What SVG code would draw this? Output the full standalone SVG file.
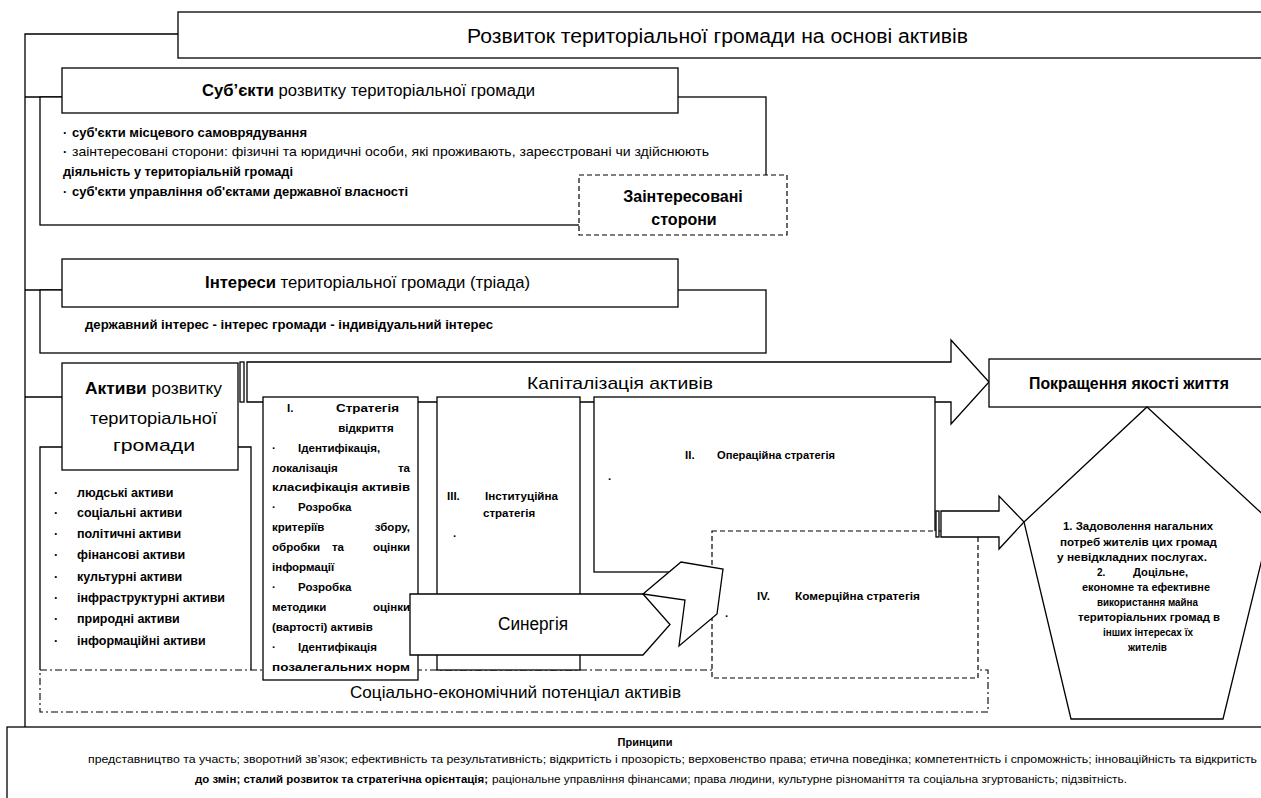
<svg xmlns="http://www.w3.org/2000/svg" width="1261" height="798" viewBox="0 0 1261 798">
<style>
text{font-family:"Liberation Sans",Arial,sans-serif;fill:#000}
.b{font-weight:bold}
.box{fill:#fff;stroke:#000;stroke-width:1.3}
.ln{fill:none;stroke:#000;stroke-width:1.3}
.dash{fill:#fff;stroke:#000;stroke-width:1.2;stroke-dasharray:5 3}
.dd{fill:none;stroke:#000;stroke-width:1.1;stroke-dasharray:7 3 2 3}
.s{font-size:11.5px;font-weight:bold}
.p{font-size:10px;font-weight:bold}
.l{font-size:12.5px;font-weight:bold}
</style>
<rect width="1261" height="798" fill="#fff"/>
<g id="connectors">
<path class="ln" d="M178,34 H25 V727"/>
<path class="ln" d="M25,97 H62"/>
<path class="ln" d="M25,290 H62"/>
<path class="ln" d="M25,397 H62"/>
</g>
<g id="title">
<rect class="box" x="178" y="12" width="1095" height="46"/>
<text x="467" y="43" font-size="20" textLength="501" lengthAdjust="spacingAndGlyphs">Розвиток територіальної громади на основі активів</text>
</g>
<g id="subjects">
<rect class="box" x="40" y="97" width="726" height="128"/>
<rect class="box" x="62" y="68" width="616" height="45"/>
<text x="202" y="96" font-size="16" textLength="333" lengthAdjust="spacingAndGlyphs"><tspan class="b">Суб’єкти</tspan> розвитку територіальної громади</text>
<text x="63" y="137" class="l">·</text>
<text x="72" y="137" class="l" textLength="235" lengthAdjust="spacingAndGlyphs">суб'єкти місцевого самоврядування</text>
<text x="63" y="156" class="l">·</text>
<text x="72" y="156" font-size="13" textLength="637" lengthAdjust="spacingAndGlyphs">заінтересовані сторони: фізичні та юридичні особи, які проживають, зареєстровані чи здійснюють</text>
<text x="63" y="176" class="l" textLength="230" lengthAdjust="spacingAndGlyphs">діяльність у територіальній громаді</text>
<text x="63" y="196" class="l">·</text>
<text x="72" y="196" class="l" textLength="336" lengthAdjust="spacingAndGlyphs">суб'єкти управління об'єктами державної власності</text>
</g>
<g id="stakeholders">
<rect class="dash" x="579" y="175" width="208" height="60"/>
<text x="683" y="202" font-size="16" class="b" text-anchor="middle">Заінтересовані</text>
<text x="684" y="225" font-size="16" class="b" text-anchor="middle">сторони</text>
</g>
<g id="interests">
<rect class="box" x="40" y="290" width="726" height="63"/>
<rect class="box" x="62" y="259" width="616" height="48"/>
<text x="205" y="288" font-size="16" textLength="325" lengthAdjust="spacingAndGlyphs"><tspan class="b">Інтереси</tspan> територіальної громади (тріада)</text>
<text x="85" y="329" class="l" textLength="408" lengthAdjust="spacingAndGlyphs">державний інтерес  - інтерес  громади - індивідуальний інтерес</text>
</g>
<g id="potential">
<rect class="dd" x="40" y="670" width="948" height="42"/>
<text x="350" y="698" font-size="17" textLength="331" lengthAdjust="spacingAndGlyphs">Соціально-економічний потенціал активів</text>
</g>
<g id="assets-list">
<path class="ln" d="M62,447 H40 V670"/>
<path class="ln" d="M238,447 H251 V670"/>
<text x="54" y="497" class="l">·</text><text x="77" y="497" class="l">людські активи</text>
<text x="54" y="517" class="l">·</text><text x="77" y="517" class="l">соціальні активи</text>
<text x="54" y="538" class="l">·</text><text x="77" y="538" class="l">політичні активи</text>
<text x="54" y="559" class="l">·</text><text x="77" y="559" class="l">фінансові активи</text>
<text x="54" y="581" class="l">·</text><text x="77" y="581" class="l">культурні активи</text>
<text x="54" y="602" class="l">·</text><text x="77" y="602" class="l">інфраструктурні активи</text>
<text x="54" y="623" class="l">·</text><text x="77" y="623" class="l">природні активи</text>
<text x="54" y="645" class="l">·</text><text x="77" y="645" class="l">інформаційні активи</text>
</g>
<g id="capitalization">
<polygon class="box" points="247,362 951,362 951,340 989,382 951,424 951,402 247,402"/>
<rect class="box" x="240" y="362" width="4" height="40"/>
<text x="527" y="389" font-size="17" textLength="186" lengthAdjust="spacingAndGlyphs">Капіталізація активів</text>
</g>
<g id="assets">
<rect class="box" x="62" y="363" width="176" height="107"/>
<text x="85" y="394" font-size="17" textLength="137" lengthAdjust="spacingAndGlyphs"><tspan class="b">Активи</tspan> розвитку</text>
<text x="90" y="424" font-size="17" textLength="127" lengthAdjust="spacingAndGlyphs">територіальної</text>
<text x="113" y="451" font-size="17" textLength="82" lengthAdjust="spacingAndGlyphs">громади</text>
</g>
<g id="strategy-1">
<rect class="box" x="263" y="397" width="155" height="283"/>
<text x="287" y="412" class="s">I.</text><text x="336" y="412" class="s" textLength="63" lengthAdjust="spacingAndGlyphs">Стратегія</text>
<text x="366" y="432" class="s" text-anchor="middle">відкриття</text>
<text x="272" y="452" class="s">·</text><text x="298" y="452" class="s">Ідентифікація,</text>
<text x="272" y="472" class="s">локалізація</text><text x="410" y="472" class="s" text-anchor="end">та</text>
<text x="272" y="491" class="s" textLength="138" lengthAdjust="spacingAndGlyphs">класифікація активів</text>
<text x="272" y="511" class="s">·</text><text x="298" y="511" class="s">Розробка</text>
<text x="272" y="531" class="s">критеріїв</text><text x="410" y="531" class="s" text-anchor="end">збору,</text>
<text x="272" y="551" class="s">обробки</text><text x="338" y="551" class="s" text-anchor="middle">та</text><text x="410" y="551" class="s" text-anchor="end">оцінки</text>
<text x="272" y="571" class="s">інформації</text>
<text x="272" y="591" class="s">·</text><text x="298" y="591" class="s">Розробка</text>
<text x="272" y="611" class="s">методики</text><text x="410" y="611" class="s" text-anchor="end">оцінки</text>
<text x="272" y="631" class="s">(вартості) активів</text>
<text x="272" y="651" class="s">·</text><text x="298" y="651" class="s">Ідентифікація</text>
<text x="272" y="671" class="s" textLength="138" lengthAdjust="spacingAndGlyphs">позалегальних норм</text>
</g>
<g id="strategy-3">
<rect class="box" x="437" y="397" width="143" height="273"/>
<text x="447" y="500" class="s">III.</text><text x="485" y="500" class="s" textLength="73" lengthAdjust="spacingAndGlyphs">Інституційна</text>
<text x="483" y="517" class="s">стратегія</text>
<text x="453" y="540" class="s">·</text>
</g>
<g id="strategy-2">
<rect class="box" x="594" y="397" width="341" height="175"/>
<text x="685" y="459" class="s">II.</text><text x="717" y="459" class="s" textLength="118" lengthAdjust="spacingAndGlyphs">Операційна стратегія</text>
<text x="608" y="483" class="s">·</text>
</g>
<g id="strategy-4">
<rect class="dash" x="712" y="531" width="266" height="147"/>
<text x="757" y="600" class="s">IV.</text><text x="795" y="600" class="s" textLength="125" lengthAdjust="spacingAndGlyphs">Комерційна стратегія</text>
<text x="725" y="620" class="s">·</text>
</g>
<g id="result-arrow">
<polygon class="box" points="941,511 999,511 999,496 1024,522 999,549 999,537 941,537"/>
<rect class="box" x="936" y="511" width="3" height="26"/>
</g>
<g id="synergy">
<polygon class="box" points="410,594 643,594 670,624.5 643,655 410,655"/>
<polygon class="box" points="643,594 681,562 723,569 717,614 679,646 685,600"/>
<text x="498" y="630" font-size="18" textLength="70" lengthAdjust="spacingAndGlyphs">Синергія</text>
</g>
<g id="quality">
<rect class="box" x="989" y="359" width="285" height="48"/>
<text x="1029" y="389" font-size="16" class="b" textLength="200" lengthAdjust="spacingAndGlyphs">Покращення якості життя</text>
</g>
<g id="goals">
<polygon class="box" points="1147,407 1271,522 1223,719 1071,719 1024,522"/>
<text x="1063" y="530" class="p" textLength="150" lengthAdjust="spacingAndGlyphs">1.  Задоволення нагальних</text>
<text x="1060" y="546" class="p" textLength="157" lengthAdjust="spacingAndGlyphs">потреб жителів цих громад</text>
<text x="1057" y="561" class="p" textLength="150" lengthAdjust="spacingAndGlyphs">у невідкладних послугах.</text>
<text x="1097" y="576" class="p">2.</text><text x="1133" y="576" class="p" textLength="55" lengthAdjust="spacingAndGlyphs">Доцільне,</text>
<text x="1082" y="591" class="p" textLength="128" lengthAdjust="spacingAndGlyphs">економне та ефективне</text>
<text x="1097" y="606" class="p" textLength="101" lengthAdjust="spacingAndGlyphs">використання майна</text>
<text x="1078" y="621" class="p" textLength="142" lengthAdjust="spacingAndGlyphs">територіальних громад в</text>
<text x="1103" y="636" class="p" textLength="90" lengthAdjust="spacingAndGlyphs">інших інтересах їх</text>
<text x="1128" y="651" class="p" textLength="39" lengthAdjust="spacingAndGlyphs">жителів</text>
</g>
<g id="principles">
<rect class="box" x="7" y="727" width="1265" height="78"/>
<text x="645" y="746" font-size="11" class="b" text-anchor="middle">Принципи</text>
<text x="88" y="763" font-size="11.5" textLength="1169" lengthAdjust="spacingAndGlyphs">представництво та участь; зворотний зв’язок; ефективність та результативність; відкритість і прозорість; верховенство права; етична поведінка; компетентність і спроможність; інноваційність та відкритість</text>
<text x="195" y="783" font-size="11.5" class="b" textLength="293" lengthAdjust="spacingAndGlyphs">до змін; сталий розвиток та стратегічна орієнтація;</text>
<text x="492" y="783" font-size="11.5" textLength="635" lengthAdjust="spacingAndGlyphs">раціональне управління фінансами; права людини, культурне різноманіття та соціальна згуртованість; підзвітність.</text>
</g>
</svg>
